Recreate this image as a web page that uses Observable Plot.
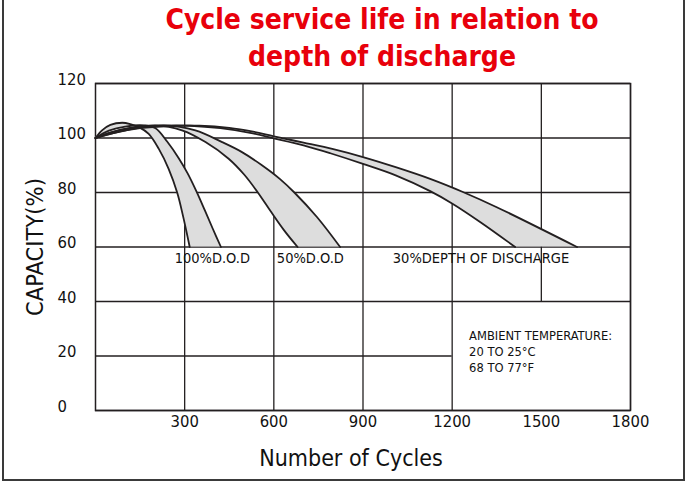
<!DOCTYPE html>
<html>
<head>
<meta charset="utf-8">
<script src="https://cdn.jsdelivr.net/npm/d3@7"></script>
<script src="https://cdn.jsdelivr.net/npm/@observablehq/plot@0.6"></script>
<style>
  html, body { margin: 0; padding: 0; background: #fff; }
  #wrap { position: relative; width: 688px; height: 481px; overflow: hidden; }
  #chart { position: absolute; left: 0; top: 0; }
  #border { position: absolute; left: 2px; top: 0; width: 683px; height: 481px; box-sizing: border-box;
            border-left: 2px solid #3a3a3a; border-right: 2px solid #3a3a3a; border-bottom: 2px solid #3a3a3a; pointer-events: none; }
</style>
</head>
<body>
<div id="wrap"><div id="chart"></div><div id="border"></div></div>
<script>
// ---- data ----
const titleLines = ["Cycle service life in relation to", "depth of discharge"];
const xLabel = "Number of Cycles";
const yLabel = "CAPACITY(%)";
const xTicks = [300, 600, 900, 1200, 1500, 1800];
const yTicks = [0, 20, 40, 60, 80, 100, 120];
// the note box (1200–1800 cycles, 0–40 %) has no inner grid lines
const noteBoxX = [1200, 1800];
const noteBoxY = [0, 40];

// [cycles, capacity %]
const dod100Inner = [[0,100],[22,102.8],[50,104.8],[90,105.6],[120,105],[146,104],[179,101.5],[213,96],[246,88.7],[275,79.9],[294,71.6],[317,60]];
const dod100Outer = [[0,100],[45,102.7],[100,104.2],[165,104.6],[202,103.6],[241,98.7],[280,92.6],[310,87],[340,80.3],[368,73.4],[395,66.6],[422,60]];
const dod50Inner  = [[0,100],[50,102],[120,103.8],[200,104.6],[291,102.8],[370,98.5],[448,92.4],[500,86.6],[545,80.2],[590,73],[634,66.2],[680,60]];
const dod50Outer  = [[0,100],[60,101.8],[140,103.6],[230,104.6],[336,102.8],[426,98.5],[490,95],[560,90],[620,85],[669,80],[745,71],[823,60]];
const dod30Inner  = [[0,100],[50,102],[130,103.8],[220,104.5],[320,104.5],[420,103.6],[520,101.9],[600,99.9],[700,97.3],[790,94.4],[900,90.5],[1010,86.3],[1126,80.5],[1201,75.9],[1294,69.2],[1412,60]];
const dod30Outer  = [[0,100],[60,101.8],[150,103.6],[250,104.4],[350,104.5],[450,103.7],[530,102.3],[600,100.6],[700,98.3],[800,95.9],[900,93],[1010,89.3],[1126,85],[1238,80.1],[1350,74.6],[1620,60]];

const dodLabels = ["100%D.O.D", "50%D.O.D", "30%DEPTH OF DISCHARGE"];
const dodLabelX = [393, 723, 1297];
const dodLabelY = [60, 60, 60];
const noteText = ["AMBIENT TEMPERATURE:", "20 TO 25°C", "68 TO 77°F"];
const noteX = 1257, noteY = 30;

// ---- build ----
const bands = [[dod100Inner, dod100Outer], [dod50Inner, dod50Outer], [dod30Inner, dod30Outer]];
const FONT = "'DejaVu Sans Condensed', 'DejaVu Sans', sans-serif";
const INK = "#231f20";
const inBoxX = x => x > noteBoxX[0] && x < noteBoxX[1];
const inBoxY = y => y > noteBoxY[0] && y < noteBoxY[1];

const marks = [];
marks.push(Plot.ruleX(xTicks, {x: d => d, y1: d => inBoxX(d) ? noteBoxY[1] : 0, y2: 120, stroke: INK, strokeWidth: 1.3}));
marks.push(Plot.ruleY(yTicks, {y: d => d, x1: 0, x2: d => inBoxY(d) ? noteBoxX[0] : 1800, stroke: INK, strokeWidth: 1.3}));
marks.push(Plot.frame({stroke: INK, strokeWidth: 1.5}));
for (const [a, b] of bands) {
  marks.push(Plot.area(d3.range(a.length), {
    x1: i => a[i][0], y1: i => a[i][1], x2: i => b[i][0], y2: i => b[i][1],
    fill: "#dddddd", curve: "catmull-rom"
  }));
}
for (const [a, b] of bands) {
  for (const c of [a, b]) {
    marks.push(Plot.line(c, {x: d => d[0], y: d => d[1], stroke: INK, strokeWidth: 1.8, curve: "catmull-rom"}));
  }
}
marks.push(Plot.axisX(xTicks, {tickSize: 0, tickPadding: 5, fontSize: 16.5, label: null, fill: "#111", tickFormat: d => String(d)}));
marks.push(Plot.axisY(yTicks, {tickSize: 0, tickPadding: 38, textAnchor: "start", dy: -4, fontSize: 16.5, label: null, fill: "#111", tickFormat: d => String(d)}));
marks.push(Plot.text(dodLabels, {x: (d, i) => dodLabelX[i], y: (d, i) => dodLabelY[i], text: d => d, dy: 11, fontSize: 14.5, fill: "#111"}));
marks.push(Plot.text([noteText.join("\n")], {x: noteX, y: noteY, text: d => d, textAnchor: "start", lineAnchor: "top", lineHeight: 1.25, fontSize: 12.8, fill: "#111"}));
marks.push(Plot.text([xLabel], {frameAnchor: "bottom", text: d => d, textAnchor: "middle", lineAnchor: "middle", dy: 48, dx: -12, fontSize: 23, fill: "#111"}));
marks.push(Plot.text([yLabel], {frameAnchor: "left", text: d => d, textAnchor: "middle", lineAnchor: "middle", rotate: -90, dx: -60, fontSize: 23.5, fill: "#111"}));
marks.push(Plot.text([titleLines.join("\n")], {frameAnchor: "top", text: d => d, textAnchor: "middle", dx: 19, dy: -80, lineAnchor: "top", lineHeight: 1.3, fontSize: 28, fontWeight: "bold", fill: "#e8000b"}));

const chart = Plot.plot({
  width: 688, height: 481,
  marginLeft: 95, marginRight: 58, marginTop: 83, marginBottom: 71,
  x: {domain: [0, 1800]},
  y: {domain: [0, 120]},
  style: {fontFamily: FONT, background: "transparent", color: "#111", overflow: "visible"},
  marks
});
document.getElementById("chart").appendChild(chart);
</script>
</body>
</html>
